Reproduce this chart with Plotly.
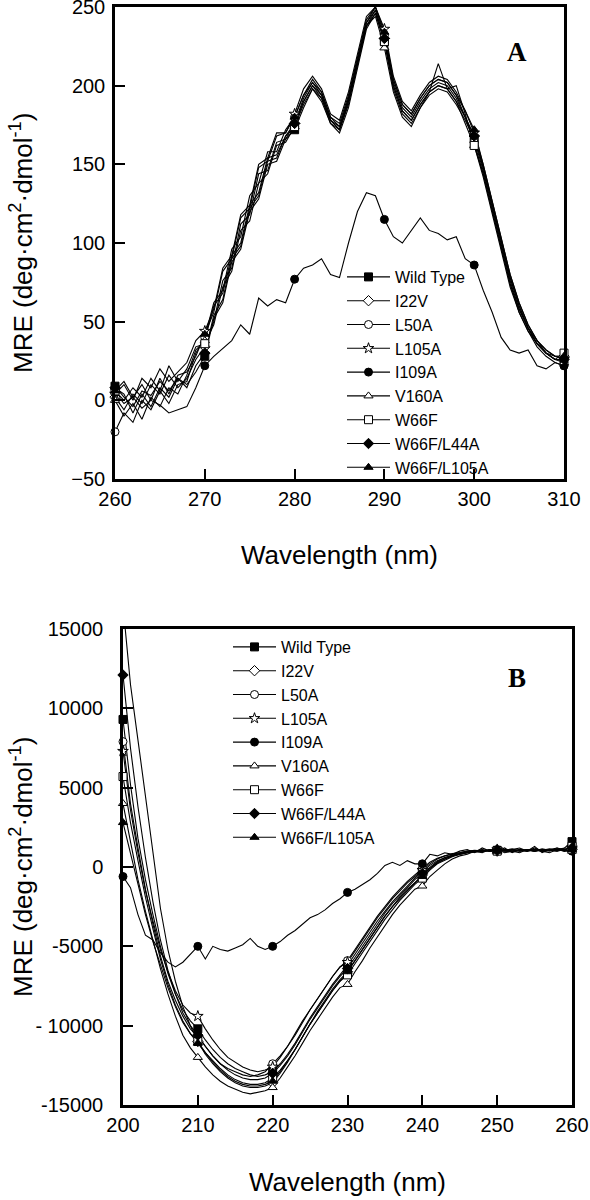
import plotly.graph_objects as go

# ---------------- data ----------------
wl_a = list(range(260, 311))
wl_b = list(range(200, 261))

names = ["Wild Type", "I22V", "L50A", "L105A", "I109A", "V160A", "W66F", "W66F/L44A", "W66F/L105A"]
symbols = ["square", "diamond", "circle", "star", "circle", "triangle-up", "square", "diamond", "triangle-up"]
filled = [True, False, False, False, True, False, False, True, True]

# Panel A: near-UV CD (260-310 nm)
a_wt = [9, 2, -4, 6, 3, 12, 6, 14, 10, 18, 28, 52, 62, 88, 96, 120, 128, 150, 152, 166, 172, 186, 198, 190, 176, 170,
        186, 212, 236, 246, 228, 198, 182, 176, 186, 194, 198, 196, 188, 178, 166, 146, 122, 98, 76, 58, 46, 36, 30, 26, 26]
a_i22v = [2, -6, 4, -2, 10, 4, 16, 8, 14, 26, 34, 50, 76, 84, 112, 118, 144, 146, 164, 166, 176, 192, 202, 194, 178, 174,
          192, 216, 240, 248, 230, 202, 186, 180, 190, 198, 202, 200, 192, 180, 168, 148, 124, 100, 78, 60, 46, 38, 30, 28, 28]
a_l50a = [-20, -8, -14, 0, -6, 6, -2, 10, 12, 30, 40, 62, 70, 96, 104, 130, 138, 158, 158, 172, 180, 194, 204, 196, 180, 176,
          194, 218, 242, 250, 232, 204, 188, 182, 192, 200, 204, 202, 194, 180, 164, 144, 120, 96, 74, 56, 44, 34, 28, 24, 22]
a_l105a = [4, 10, 0, 14, 8, 20, 12, 18, 24, 38, 44, 58, 84, 92, 118, 124, 150, 154, 170, 170, 182, 198, 206, 198, 182, 178,
           196, 220, 244, 250, 236, 206, 190, 184, 194, 202, 206, 204, 196, 184, 170, 150, 126, 102, 80, 62, 48, 38, 32, 28, 26]
a_i109a = [5, -2, 2, -5, 0, -3, -8, -6, -4, 8, 22, 28, 33, 38, 48, 42, 65, 60, 64, 62, 77, 84, 86, 90, 80, 78,
           100, 120, 132, 130, 115, 104, 100, 108, 116, 108, 106, 102, 104, 90, 86, 70, 56, 40, 32, 30, 32, 22, 20, 24, 22]
a_v160a = [0, -10, -2, -12, 2, -4, 8, 4, 16, 32, 38, 60, 68, 92, 100, 124, 132, 154, 156, 168, 174, 188, 198, 192, 178, 172,
           190, 214, 238, 244, 224, 196, 180, 174, 186, 196, 214, 198, 190, 176, 162, 142, 118, 94, 72, 56, 44, 36, 30, 26, 24]
a_w66f = [6, 0, 8, 2, 14, 6, 22, 12, 20, 34, 36, 48, 72, 82, 108, 114, 138, 144, 162, 164, 174, 190, 200, 192, 176, 172,
          190, 214, 238, 246, 228, 200, 184, 178, 188, 196, 200, 198, 200, 182, 162, 144, 120, 96, 74, 58, 46, 36, 30, 26, 30]
a_w66f_l44a = [8, 4, -8, 4, -4, 8, 2, 14, 8, 22, 30, 54, 64, 90, 98, 122, 130, 152, 154, 168, 176, 190, 200, 194, 178, 172,
               188, 214, 238, 248, 230, 200, 184, 178, 188, 196, 200, 198, 190, 180, 168, 148, 124, 100, 78, 60, 46, 36, 30, 26, 26]
a_w66f_l105a = [6, 12, 2, 10, 0, 14, 4, 16, 18, 28, 42, 56, 82, 90, 116, 122, 148, 152, 168, 170, 180, 194, 202, 196, 180, 174,
                192, 216, 240, 250, 234, 204, 188, 182, 192, 200, 204, 202, 194, 184, 172, 150, 126, 102, 80, 62, 48, 38, 32, 28, 28]

# Panel B: far-UV CD (200-260 nm)
b_wt = [9300, 5200, 1800, -800, -3000, -5000, -6700, -8000, -9000, -9700, -10200, -10900, -11500, -12000, -12400, -12700,
        -12900, -13100, -13200, -13100, -12900, -12400, -11800, -11100, -10300, -9500, -8800, -8100, -7400, -6800, -6200,
        -5500, -4800, -4100, -3400, -2800, -2200, -1700, -1200, -700, -300, 100, 400, 600, 750, 850, 950, 1000, 1050, 1000,
        1050, 1000, 950, 1050, 1000, 1100, 1000, 1050, 1100, 1200, 1600]
b_i22v = [16500, 11500, 8000, 4500, 800, -2600, -5200, -7200, -8800, -10000, -11000, -11800, -12400, -12900, -13300, -13600,
          -13800, -13900, -13900, -13800, -13600, -13000, -12300, -11500, -10700, -9900, -9200, -8500, -7800, -7200, -6600,
          -5900, -5200, -4500, -3800, -3100, -2500, -2000, -1500, -1000, -500, -100, 300, 500, 700, 800, 900, 1000, 950, 1100,
          1000, 1200, 900, 1100, 1000, 1300, 900, 1100, 1000, 1200, 1100]
b_l50a = [7900, 4000, 1200, -1400, -3600, -5600, -7200, -8400, -9400, -10200, -10700, -11300, -11900, -12400, -12700, -12900,
          -13100, -13200, -13100, -12900, -12400, -11900, -11300, -10600, -9800, -9000, -8300, -7600, -6900, -6300, -5900,
          -5200, -4500, -3800, -3100, -2500, -1900, -1400, -900, -500, -100, 300, 550, 700, 850, 900, 1000, 1050, 1000, 1100,
          1000, 1050, 1150, 1000, 1100, 1000, 1150, 1050, 1000, 1100, 1100]
b_l105a = [7300, 3600, 900, -1500, -3400, -5200, -6600, -7800, -8700, -9200, -9400, -10200, -10900, -11500, -12000, -12300,
           -12600, -12800, -12900, -12800, -12600, -12000, -11300, -10500, -9700, -9000, -8300, -7600, -6900, -6300, -6000,
           -5300, -4600, -3900, -3200, -2600, -2000, -1500, -1000, -600, -200, 200, 500, 700, 800, 900, 1000, 1000, 1100, 1000,
           1100, 1000, 1100, 1200, 1000, 1100, 1000, 1100, 1200, 1000, 1200]
b_i109a = [-600, -1300, -3000, -4300, -4600, -5400, -6000, -6300, -6000, -5500, -5000, -5800, -5000, -5200, -5300, -5100,
           -4900, -4500, -5000, -5200, -5000, -4700, -4300, -4000, -3600, -3200, -3000, -2700, -2300, -2000, -1600,
           -1400, -1100, -800, -400, 100, 300, 100, 400, 200, 200, 800, 700, 900, 800, 1000, 1100, 900, 1200, 1000,
           1100, 900, 1000, 1100, 1000, 1200, 1000, 900, 1100, 1000, 1000]
b_v160a = [4000, 1500, -800, -2800, -4600, -6400, -8000, -9400, -10600, -11400, -12000, -12600, -13100, -13500, -13800, -14000,
           -14200, -14300, -14200, -14100, -13900, -13300, -12600, -11900, -11100, -10300, -9600, -8900, -8200, -7600, -7400,
           -6600, -5900, -5100, -4400, -3700, -3000, -2400, -1900, -1400, -1200, -600, -200, 200, 500, 700, 800, 1000, 900, 1100,
           1000, 1100, 1000, 900, 1100, 1000, 1100, 1000, 1200, 1100, 1000]
b_w66f = [5700, 2800, 400, -1900, -3900, -5800, -7400, -8700, -9700, -10500, -11000, -11700, -12200, -12700, -13100, -13400,
          -13600, -13700, -13700, -13600, -13300, -12800, -12200, -11500, -10700, -9900, -9200, -8500, -7800, -7200, -6800,
          -6100, -5400, -4700, -4000, -3300, -2700, -2100, -1600, -1100, -700, -200, 200, 450, 650, 800, 900, 950, 1000, 1050,
          1000, 1050, 1000, 1100, 1050, 1000, 1100, 1050, 1100, 1000, 1300]
b_w66f_l44a = [12100, 7500, 3800, 600, -2200, -4600, -6500, -8000, -9200, -10000, -10600, -11300, -11900, -12400, -12800, -13100,
               -13300, -13400, -13400, -13300, -13000, -12500, -11900, -11200, -10400, -9600, -8900, -8200, -7500, -6900, -6400,
               -5700, -5000, -4300, -3600, -2900, -2300, -1800, -1300, -800, -400, 0, 350, 600, 750, 850, 950, 1000, 1050, 1000,
               1050, 1100, 1000, 1050, 1100, 1000, 1050, 1150, 1050, 1100, 1200]
b_w66f_l105a = [2800, 800, -1200, -3000, -4700, -6200, -7600, -8800, -9800, -10500, -11100, -11700, -12300, -12800, -13200, -13500,
                -13700, -13800, -13800, -13700, -13500, -12900, -12200, -11500, -10700, -9900, -9100, -8400, -7700, -7100, -6600,
                -5900, -5200, -4500, -3800, -3100, -2500, -1900, -1400, -1000, -600, -100, 250, 500, 700, 800, 900, 950, 1000, 1050,
                1000, 1050, 1100, 1000, 1050, 1100, 1000, 1050, 1100, 1050, 1100]

series_a = [a_wt, a_i22v, a_l50a, a_l105a, a_i109a, a_v160a, a_w66f, a_w66f_l44a, a_w66f_l105a]
series_b = [b_wt, b_i22v, b_l50a, b_l105a, b_i109a, b_v160a, b_w66f, b_w66f_l44a, b_w66f_l105a]

a_ticks = [260, 270, 280, 290, 300, 310]
a_yticks = [-50, 0, 50, 100, 150, 200, 250]
b_ticks = [200, 210, 220, 230, 240, 250, 260]
b_yticks = [-15000, -10000, -5000, 0, 5000, 10000, 15000]
b_yticktext = ["-15000", "- 10000", "-5000", "0", "5000", "10000", "15000"]

# ---------------- figure ----------------
W, H = 590, 1200
FONT = "Liberation Sans, Arial, sans-serif"
LW = 1.1
MS = 8

fig = go.Figure()


def marker_style(i):
    return dict(symbol=symbols[i], size=MS,
                color="black" if filled[i] else "white",
                line=dict(color="black", width=1))


# lines
for i in range(len(names)):
    fig.add_trace(go.Scatter(x=wl_a, y=series_a[i], mode="lines", line=dict(color="black", width=LW),
                             showlegend=False, xaxis="x", yaxis="y", hoverinfo="skip"))
    fig.add_trace(go.Scatter(x=wl_b, y=series_b[i], mode="lines", line=dict(color="black", width=LW),
                             showlegend=False, xaxis="x2", yaxis="y2", hoverinfo="skip"))

# markers every 10 nm
for i in range(len(names)):
    xa = [w for w in wl_a if w % 10 == 0]
    ya = [v for w, v in zip(wl_a, series_a[i]) if w % 10 == 0]
    fig.add_trace(go.Scatter(x=xa, y=ya, mode="markers", marker=marker_style(i), cliponaxis=False,
                             showlegend=False, xaxis="x", yaxis="y"))
    xb = [w for w in wl_b if w % 10 == 0]
    yb = [v for w, v in zip(wl_b, series_b[i]) if w % 10 == 0]
    keep = [(x, y) for x, y in zip(xb, yb) if -15000 <= y <= 15000]
    fig.add_trace(go.Scatter(x=[k[0] for k in keep], y=[k[1] for k in keep], mode="markers",
                             marker=marker_style(i), cliponaxis=False,
                             showlegend=False, xaxis="x2", yaxis="y2"))

# legend entries
for i, name in enumerate(names):
    for leg, xa_, ya_ in (("legend", "x", "y"), ("legend2", "x2", "y2")):
        fig.add_trace(go.Scatter(x=[None], y=[None], mode="lines+markers", name=name,
                                 line=dict(color="black", width=LW), marker=marker_style(i),
                                 legend=leg, xaxis=xa_, yaxis=ya_))

axis_common = dict(showgrid=False, zeroline=False, showline=True, linecolor="black", linewidth=2.5,
                   mirror=True, ticks="inside", ticklen=10, tickwidth=2, tickcolor="black",
                   tickfont=dict(family=FONT, size=20, color="black"), automargin=False,
                   ticklabeloverflow="allow")

fig.update_layout(
    template="none",
    width=W, height=H,
    margin=dict(l=0, r=0, t=0, b=0),
    paper_bgcolor="white", plot_bgcolor="white",
    font=dict(family=FONT, color="black"),
    xaxis=dict(domain=[115 / W, 564 / W], range=[260, 310], tickvals=a_ticks, anchor="y", **axis_common),
    yaxis=dict(domain=[1 - 479 / H, 1 - 7 / H], range=[-50, 250], tickvals=a_yticks, anchor="x",
               ticklabelstandoff=3, **axis_common),
    xaxis2=dict(domain=[123 / W, 572 / W], range=[200, 260], tickvals=b_ticks, anchor="y2", **axis_common),
    yaxis2=dict(domain=[1 - 1105 / H, 1 - 629 / H], range=[-15000, 15000], tickvals=b_yticks,
                ticktext=b_yticktext, anchor="x2", ticklabelstandoff=13, **axis_common),
    legend=dict(x=342 / W, y=1 - 260 / H, xanchor="left", yanchor="top", bgcolor="rgba(0,0,0,0)",
                font=dict(family=FONT, size=16, color="black"), itemwidth=43, borderwidth=0),
    legend2=dict(x=228 / W, y=1 - 630 / H, xanchor="left", yanchor="top", bgcolor="rgba(0,0,0,0)",
                 font=dict(family=FONT, size=16, color="black"), itemwidth=43, borderwidth=0),
)

title_font = dict(family=FONT, size=26, color="black")
ytitle = "MRE (deg·cm<sup>2</sup>·dmol<sup>-1</sup>)"
fig.add_annotation(text="Wavelength (nm)", x=(115 + 564) / 2 / W, y=1 - 555 / H, xref="paper", yref="paper",
                   showarrow=False, font=title_font, xanchor="center", yanchor="middle")
fig.add_annotation(text="Wavelength (nm)", x=(123 + 572) / 2 / W, y=1 - 1182 / H, xref="paper", yref="paper",
                   showarrow=False, font=title_font, xanchor="center", yanchor="middle")
fig.add_annotation(text=ytitle, x=21 / W, y=1 - 243 / H, xref="paper", yref="paper", textangle=-90,
                   showarrow=False, font=title_font, xanchor="center", yanchor="middle")
fig.add_annotation(text=ytitle, x=21 / W, y=1 - 867 / H, xref="paper", yref="paper", textangle=-90,
                   showarrow=False, font=title_font, xanchor="center", yanchor="middle")
panel_font = dict(family="Liberation Serif, Times New Roman, serif", size=27, color="black")
fig.add_annotation(text="<b>A</b>", x=517 / W, y=1 - 52 / H, xref="paper", yref="paper",
                   showarrow=False, font=panel_font, xanchor="center", yanchor="middle")
fig.add_annotation(text="<b>B</b>", x=517 / W, y=1 - 678 / H, xref="paper", yref="paper",
                   showarrow=False, font=panel_font, xanchor="center", yanchor="middle")

fig.write_html(
    "out.html",
    config={"displayModeBar": False},
    post_script="document.body.style.margin='0';document.body.style.padding='0';"
                "document.body.style.overflow='hidden';document.documentElement.style.overflow='hidden';",
)
